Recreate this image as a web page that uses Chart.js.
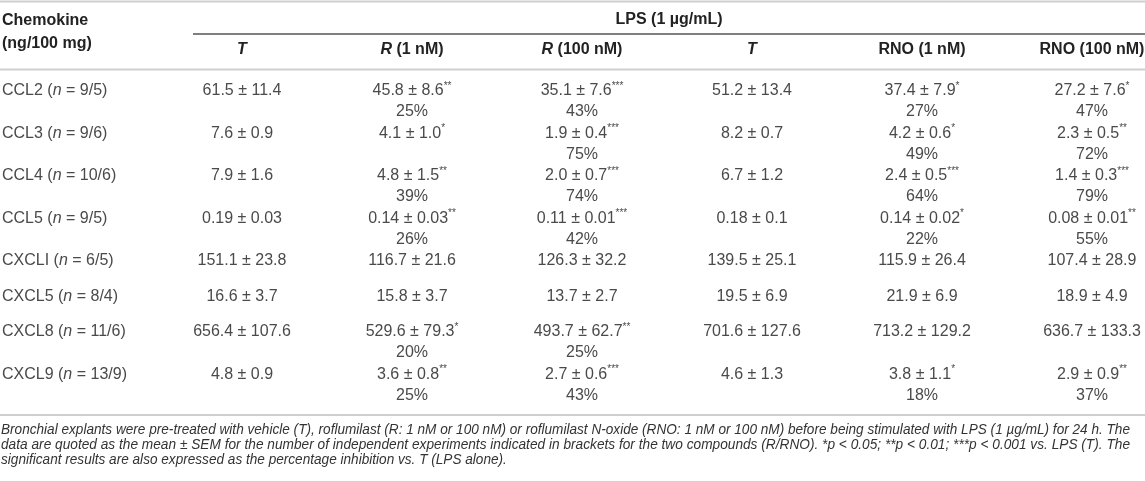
<!DOCTYPE html>
<html>
<head>
<meta charset="utf-8">
<script src="https://cdn.jsdelivr.net/npm/chart.js@4"></script>
<style>
    html, body { margin: 0; padding: 0; background: #fff; }
</style>
</head>
<body>
<canvas id="table-chart" width="1145" height="481"></canvas>
<script>
// rows
const chemokines = ['CCL2', 'CCL3', 'CCL4', 'CCL5', 'CXCLI', 'CXCL5', 'CXCL8', 'CXCL9'];
const nCounts = ['9/5', '9/6', '10/6', '9/5', '6/5', '8/4', '11/6', '13/9'];

// columns (LPS 1 µg/mL + treatment)
const columnKeys = ['T_R', 'R1', 'R100', 'T_RNO', 'RNO1', 'RNO100'];
const columnHeaders = [
    [['T', true]],
    [['R', true], [' (1 nM)', false]],
    [['R', true], [' (100 nM)', false]],
    [['T', true]],
    [['RNO (1 nM)', false]],
    [['RNO (100 nM)', false]]
];

// mean ± SEM (ng/100 mg)
const lpsT_R = ['61.5 ± 11.4', '7.6 ± 0.9', '7.9 ± 1.6', '0.19 ± 0.03', '151.1 ± 23.8', '16.6 ± 3.7', '656.4 ± 107.6', '4.8 ± 0.9'];
const roflu1 = ['45.8 ± 8.6', '4.1 ± 1.0', '4.8 ± 1.5', '0.14 ± 0.03', '116.7 ± 21.6', '15.8 ± 3.7', '529.6 ± 79.3', '3.6 ± 0.8'];
const roflu100 = ['35.1 ± 7.6', '1.9 ± 0.4', '2.0 ± 0.7', '0.11 ± 0.01', '126.3 ± 32.2', '13.7 ± 2.7', '493.7 ± 62.7', '2.7 ± 0.6'];
const lpsT_RNO = ['51.2 ± 13.4', '8.2 ± 0.7', '6.7 ± 1.2', '0.18 ± 0.1', '139.5 ± 25.1', '19.5 ± 6.9', '701.6 ± 127.6', '4.6 ± 1.3'];
const rno1 = ['37.4 ± 7.9', '4.2 ± 0.6', '2.4 ± 0.5', '0.14 ± 0.02', '115.9 ± 26.4', '21.9 ± 6.9', '713.2 ± 129.2', '3.8 ± 1.1'];
const rno100 = ['27.2 ± 7.6', '2.3 ± 0.5', '1.4 ± 0.3', '0.08 ± 0.01', '107.4 ± 28.9', '18.9 ± 4.9', '636.7 ± 133.3', '2.9 ± 0.9'];

// significance marks
const noStars = ['', '', '', '', '', '', '', ''];
const roflu1Stars = ['**', '*', '**', '**', '', '', '*', '**'];
const roflu100Stars = ['***', '***', '***', '***', '', '', '**', '***'];
const rno1Stars = ['*', '*', '***', '*', '', '', '', '*'];
const rno100Stars = ['*', '**', '***', '**', '', '', '', '**'];

// percentage inhibition vs. T
const noInhib = ['', '', '', '', '', '', '', ''];
const roflu1Inhib = ['25%', '', '39%', '26%', '', '', '20%', '25%'];
const roflu100Inhib = ['43%', '75%', '74%', '42%', '', '', '25%', '43%'];
const rno1Inhib = ['27%', '49%', '64%', '22%', '', '', '', '18%'];
const rno100Inhib = ['47%', '72%', '79%', '55%', '', '', '', '37%'];

const footnoteLines = [
    'Bronchial explants were pre-treated with vehicle (T), roflumilast (R: 1 nM or 100 nM) or roflumilast N-oxide (RNO: 1 nM or 100 nM) before being stimulated with LPS (1 µg/mL) for 24 h. The',
    'data are quoted as the mean ± SEM for the number of independent experiments indicated in brackets for the two compounds (R/RNO). *p < 0.05; **p < 0.01; ***p < 0.001 vs. LPS (T). The',
    'significant results are also expressed as the percentage inhibition vs. T (LPS alone).'
];

const columns = [
    { values: lpsT_R, stars: noStars, inhib: noInhib },
    { values: roflu1, stars: roflu1Stars, inhib: roflu1Inhib },
    { values: roflu100, stars: roflu100Stars, inhib: roflu100Inhib },
    { values: lpsT_RNO, stars: noStars, inhib: noInhib },
    { values: rno1, stars: rno1Stars, inhib: rno1Inhib },
    { values: rno100, stars: rno100Stars, inhib: rno100Inhib }
];

const FONT = '"Liberation Sans", Arial, Helvetica, sans-serif';
const TEXT = '#4a4a4a';
const HEAD = '#222';
const RULE = '#cfcfcf';

// row centre (first text line) on the y scale, from how many lines each row needs
let acc = 0;
const rowY = chemokines.map((_, i) => {
    const twoLines = columns.some(c => c.inhib[i] !== '');
    const y = acc + 21;
    acc += twoLines ? 42.5 : 35.5;
    return y;
});

function drawParts(ctx, parts, x, y, align) {
    let total = 0;
    parts.forEach(p => { ctx.font = p.font; p.w = ctx.measureText(p.text).width; total += p.w; });
    let cx = align === 'center' ? x - total / 2 : x;
    parts.forEach(p => {
        ctx.font = p.font;
        ctx.fillStyle = p.color || TEXT;
        ctx.textAlign = 'left';
        ctx.textBaseline = 'middle';
        ctx.fillText(p.text, cx, y + (p.dy || 0));
        cx += p.w;
    });
}

function rule(ctx, x1, x2, y, color, w) {
    ctx.save();
    ctx.strokeStyle = color;
    ctx.lineWidth = w;
    ctx.beginPath();
    ctx.moveTo(x1, y);
    ctx.lineTo(x2, y);
    ctx.stroke();
    ctx.restore();
}

const tablePlugin = {
    id: 'tableText',
    afterDraw(chart) {
        const ctx = chart.ctx;
        const xs = chart.scales.x;
        const W = chart.width;

        // rules
        rule(ctx, 0, W, 1.5, RULE, 2);
        rule(ctx, 193, W, 34, '#555', 1.5);
        rule(ctx, 0, W, 69.5, RULE, 2);
        rule(ctx, 0, W, chart.chartArea.bottom, RULE, 2);

        // header
        drawParts(ctx, [{ text: 'Chemokine', font: 'bold 16px ' + FONT, color: HEAD }], 2, 21, 'left');
        drawParts(ctx, [{ text: '(ng/100 mg)', font: 'bold 16px ' + FONT, color: HEAD }], 2, 44, 'left');
        drawParts(ctx, [{ text: 'LPS (1 µg/mL)', font: 'bold 16px ' + FONT, color: HEAD }], (193 + W) / 2, 20, 'center');
        columnHeaders.forEach((hdr, c) => {
            const parts = hdr.map(([t, it]) => ({ text: t, font: (it ? 'italic ' : '') + 'bold 16px ' + FONT, color: HEAD }));
            drawParts(ctx, parts, xs.getPixelForValue(c), 50, 'center');
        });

        // row labels
        const meta0 = chart.getDatasetMeta(0);
        chemokines.forEach((name, i) => {
            const y = meta0.data[i].y;
            drawParts(ctx, [
                { text: name + ' (', font: '16px ' + FONT },
                { text: 'n', font: 'italic 16px ' + FONT },
                { text: ' = ' + nCounts[i] + ')', font: '16px ' + FONT }
            ], 2, y, 'left');
        });

        // cells
        chart.data.datasets.forEach((ds, d) => {
            const meta = chart.getDatasetMeta(d);
            meta.data.forEach((pt, i) => {
                const parts = [{ text: ds.cells.values[i], font: '16px ' + FONT }];
                if (ds.cells.stars[i]) parts.push({ text: ds.cells.stars[i], font: '10px ' + FONT, dy: -5 });
                drawParts(ctx, parts, pt.x, pt.y, 'center');
                if (ds.cells.inhib[i]) {
                    drawParts(ctx, [{ text: ds.cells.inhib[i], font: '16px ' + FONT }], pt.x, pt.y + 21, 'center');
                }
            });
        });

        // footnote, first two lines justified to the table width
        const fy = [430, 445, 460];
        ctx.save();
        ctx.font = 'italic 14px ' + FONT;
        ctx.fillStyle = '#333';
        ctx.textBaseline = 'middle';
        ctx.textAlign = 'left';
        const squeeze = 1129 / ctx.measureText(footnoteLines[0]).width;
        footnoteLines.forEach((line, k) => {
            const sx = k < 2 ? 1129 / ctx.measureText(line).width : squeeze;
            ctx.save();
            ctx.translate(1, fy[k]);
            ctx.scale(sx, 1);
            ctx.fillText(line, 0, 0);
            ctx.restore();
        });
        ctx.restore();
    }
};

const datasets = columns.map((col, c) => ({
    label: columnKeys[c],
    data: rowY.map(y => ({ x: columnKeys[c], y: y })),
    cells: col,
    pointRadius: 0,
    showLine: false
}));

new Chart(document.getElementById('table-chart'), {
    type: 'scatter',
    data: { datasets: datasets },
    options: {
        responsive: false,
        animation: false,
        events: [],
        layout: { padding: { left: 242, right: 53, top: 70, bottom: 66 } },
        scales: {
            x: { type: 'category', labels: columnKeys, offset: false, display: false },
            y: { type: 'linear', min: 0, max: 345, reverse: true, display: false }
        },
        plugins: {
            legend: { display: false },
            tooltip: { enabled: false }
        }
    },
    plugins: [tablePlugin]
});
</script>
</body>
</html>
